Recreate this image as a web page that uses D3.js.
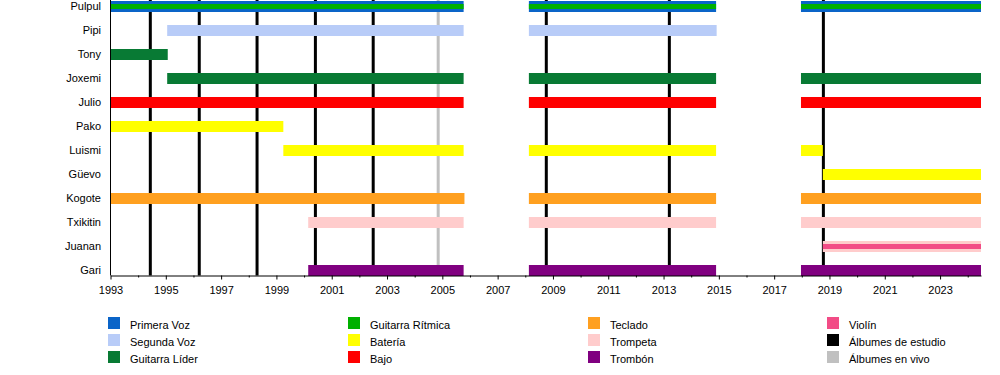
<!DOCTYPE html>
<html>
<head>
<meta charset="utf-8">
<script src="https://cdn.jsdelivr.net/npm/d3@7"></script>
<style>
  body { margin: 0; background: #fff; }
  svg { display: block; font-family: "Liberation Sans", Arial, sans-serif; }
</style>
</head>
<body>
<div id="chart"></div>
<script>
"use strict";

// band members, top to bottom
const members = ["Pulpul", "Pipi", "Tony", "Joxemi", "Julio", "Pako", "Luismi",
    "Güevo", "Kogote", "Txikitin", "Juanan", "Gari"];

// roles (legend order) and their colours
const roles = ["Primera Voz", "Segunda Voz", "Guitarra Líder", "Guitarra Rítmica", "Batería", "Bajo",
    "Teclado", "Trompeta", "Trombón", "Violín", "Álbumes de estudio", "Álbumes en vivo"];
const roleColors = ["#0a64c8", "#b8ccf8", "#087a34", "#00b000", "#ffff00", "#ff0000",
    "#ffa020", "#ffcccc", "#800080", "#f24c86", "#000000", "#c0c0c0"];

// main bars: [member, role, start, end]
const spans = [
    ["Pulpul", "Primera Voz", 1993, 2005.77], ["Pulpul", "Primera Voz", 2008.13, 2014.9], ["Pulpul", "Primera Voz", 2017.97, 2024.48],
    ["Pipi", "Segunda Voz", 1995.05, 2005.77], ["Pipi", "Segunda Voz", 2008.13, 2014.92],
    ["Tony", "Guitarra Líder", 1993, 1995.07],
    ["Joxemi", "Guitarra Líder", 1995.05, 2005.77], ["Joxemi", "Guitarra Líder", 2008.13, 2014.9], ["Joxemi", "Guitarra Líder", 2017.97, 2024.48],
    ["Julio", "Bajo", 1993, 2005.77], ["Julio", "Bajo", 2008.13, 2014.9], ["Julio", "Bajo", 2017.97, 2024.48],
    ["Pako", "Batería", 1993, 1999.25],
    ["Luismi", "Batería", 1999.25, 2005.77], ["Luismi", "Batería", 2008.13, 2014.9], ["Luismi", "Batería", 2017.97, 2018.76],
    ["Güevo", "Batería", 2018.76, 2024.48],
    ["Kogote", "Teclado", 1993, 2005.8], ["Kogote", "Teclado", 2008.13, 2014.9], ["Kogote", "Teclado", 2017.97, 2024.48],
    ["Txikitin", "Trompeta", 2000.15, 2005.77], ["Txikitin", "Trompeta", 2008.13, 2014.9], ["Txikitin", "Trompeta", 2017.97, 2024.48],
    ["Juanan", "Trompeta", 2018.76, 2024.48],
    ["Gari", "Trombón", 2000.15, 2005.77], ["Gari", "Trombón", 2008.13, 2014.9], ["Gari", "Trombón", 2017.97, 2024.48]
];

// thin secondary bars drawn inside the main ones
const innerSpans = [
    ["Pulpul", "Guitarra Rítmica", 1993, 2005.77], ["Pulpul", "Guitarra Rítmica", 2008.13, 2014.9], ["Pulpul", "Guitarra Rítmica", 2017.97, 2024.48],
    ["Juanan", "Violín", 2018.76, 2024.48]
];

const studioAlbums = [1994.44, 1996.21, 1998.3, 2000.41, 2002.5, 2008.76, 2013.21, 2018.78];
const liveAlbums = [2004.85];

const majorYears = d3.range(1993, 2025, 2);
const minorYears = d3.range(1994, 2025, 2);

const width = 1000, height = 375;

const svg = d3.select("#chart").append("svg")
    .attr("width", width)
    .attr("height", height);

svg.append("rect").attr("width", width).attr("height", height).attr("fill", "#fff");

const color = d3.scaleOrdinal().domain(roles).range(roleColors);

const x = d3.scaleLinear().domain([1993, 2024.48]).range([110.5, 981]);
const y = d3.scalePoint().domain(members).range([6.5, 270.5]);
const axisY = 275.5;

// album lines (behind the bars)
svg.append("g").selectAll("line")
    .data(studioAlbums.map(d => ({ year: d, c: color("Álbumes de estudio") }))
        .concat(liveAlbums.map(d => ({ year: d, c: color("Álbumes en vivo") }))))
    .enter().append("line")
    .attr("x1", d => x(d.year)).attr("x2", d => x(d.year))
    .attr("y1", 0).attr("y2", axisY)
    .attr("stroke", d => d.c)
    .attr("stroke-width", 3);

// main bars
svg.append("g").selectAll("rect")
    .data(spans)
    .enter().append("rect")
    .attr("x", d => x(d[2]))
    .attr("y", d => y(d[0]) - 5.5)
    .attr("width", d => x(d[3]) - x(d[2]))
    .attr("height", 11)
    .attr("fill", d => color(d[1]));

// inner bars
svg.append("g").selectAll("rect")
    .data(innerSpans)
    .enter().append("rect")
    .attr("x", d => x(d[2]))
    .attr("y", d => y(d[0]) - 2.5)
    .attr("width", d => x(d[3]) - x(d[2]))
    .attr("height", 5)
    .attr("fill", d => color(d[1]));

// member labels
svg.append("g").selectAll("text")
    .data(members)
    .enter().append("text")
    .attr("x", 101)
    .attr("y", d => y(d))
    .attr("dy", "0.35em")
    .attr("text-anchor", "end")
    .attr("font-size", 11)
    .attr("fill", "#000")
    .text(d => d);

// left frame line
svg.append("line")
    .attr("x1", 110.5).attr("x2", 110.5)
    .attr("y1", 0).attr("y2", axisY)
    .attr("stroke", "#000");

// x axis
const axis = svg.append("g")
    .attr("transform", `translate(0,${axisY})`)
    .call(d3.axisBottom(x)
        .tickValues(majorYears)
        .tickFormat(d3.format("d"))
        .tickSize(4)
        .tickSizeOuter(0)
        .tickPadding(7));
axis.select(".domain").attr("stroke", "#000");
axis.selectAll("text").attr("font-size", 11).attr("font-family", "Liberation Sans, Arial, sans-serif").attr("fill", "#000");

svg.append("g")
    .attr("transform", `translate(0,${axisY})`)
    .selectAll("line")
    .data(minorYears)
    .enter().append("line")
    .attr("x1", d => x(d) + 0.5).attr("x2", d => x(d) + 0.5)
    .attr("y1", 0).attr("y2", 2)
    .attr("stroke", "#000");

// legend, 4 columns of 3
const legendX = [108, 348, 588, 827];
const legendY = [317, 334, 351];

const legend = svg.append("g").selectAll("g")
    .data(roles)
    .enter().append("g")
    .attr("transform", (d, i) => `translate(${legendX[Math.floor(i / 3)]},${legendY[i % 3]})`);

legend.append("rect")
    .attr("width", 12).attr("height", 12)
    .attr("fill", d => color(d));

legend.append("text")
    .attr("x", 22)
    .attr("y", 8)
    .attr("dy", "0.35em")
    .attr("font-size", 11)
    .attr("fill", "#000")
    .text(d => d);
</script>
</body>
</html>
